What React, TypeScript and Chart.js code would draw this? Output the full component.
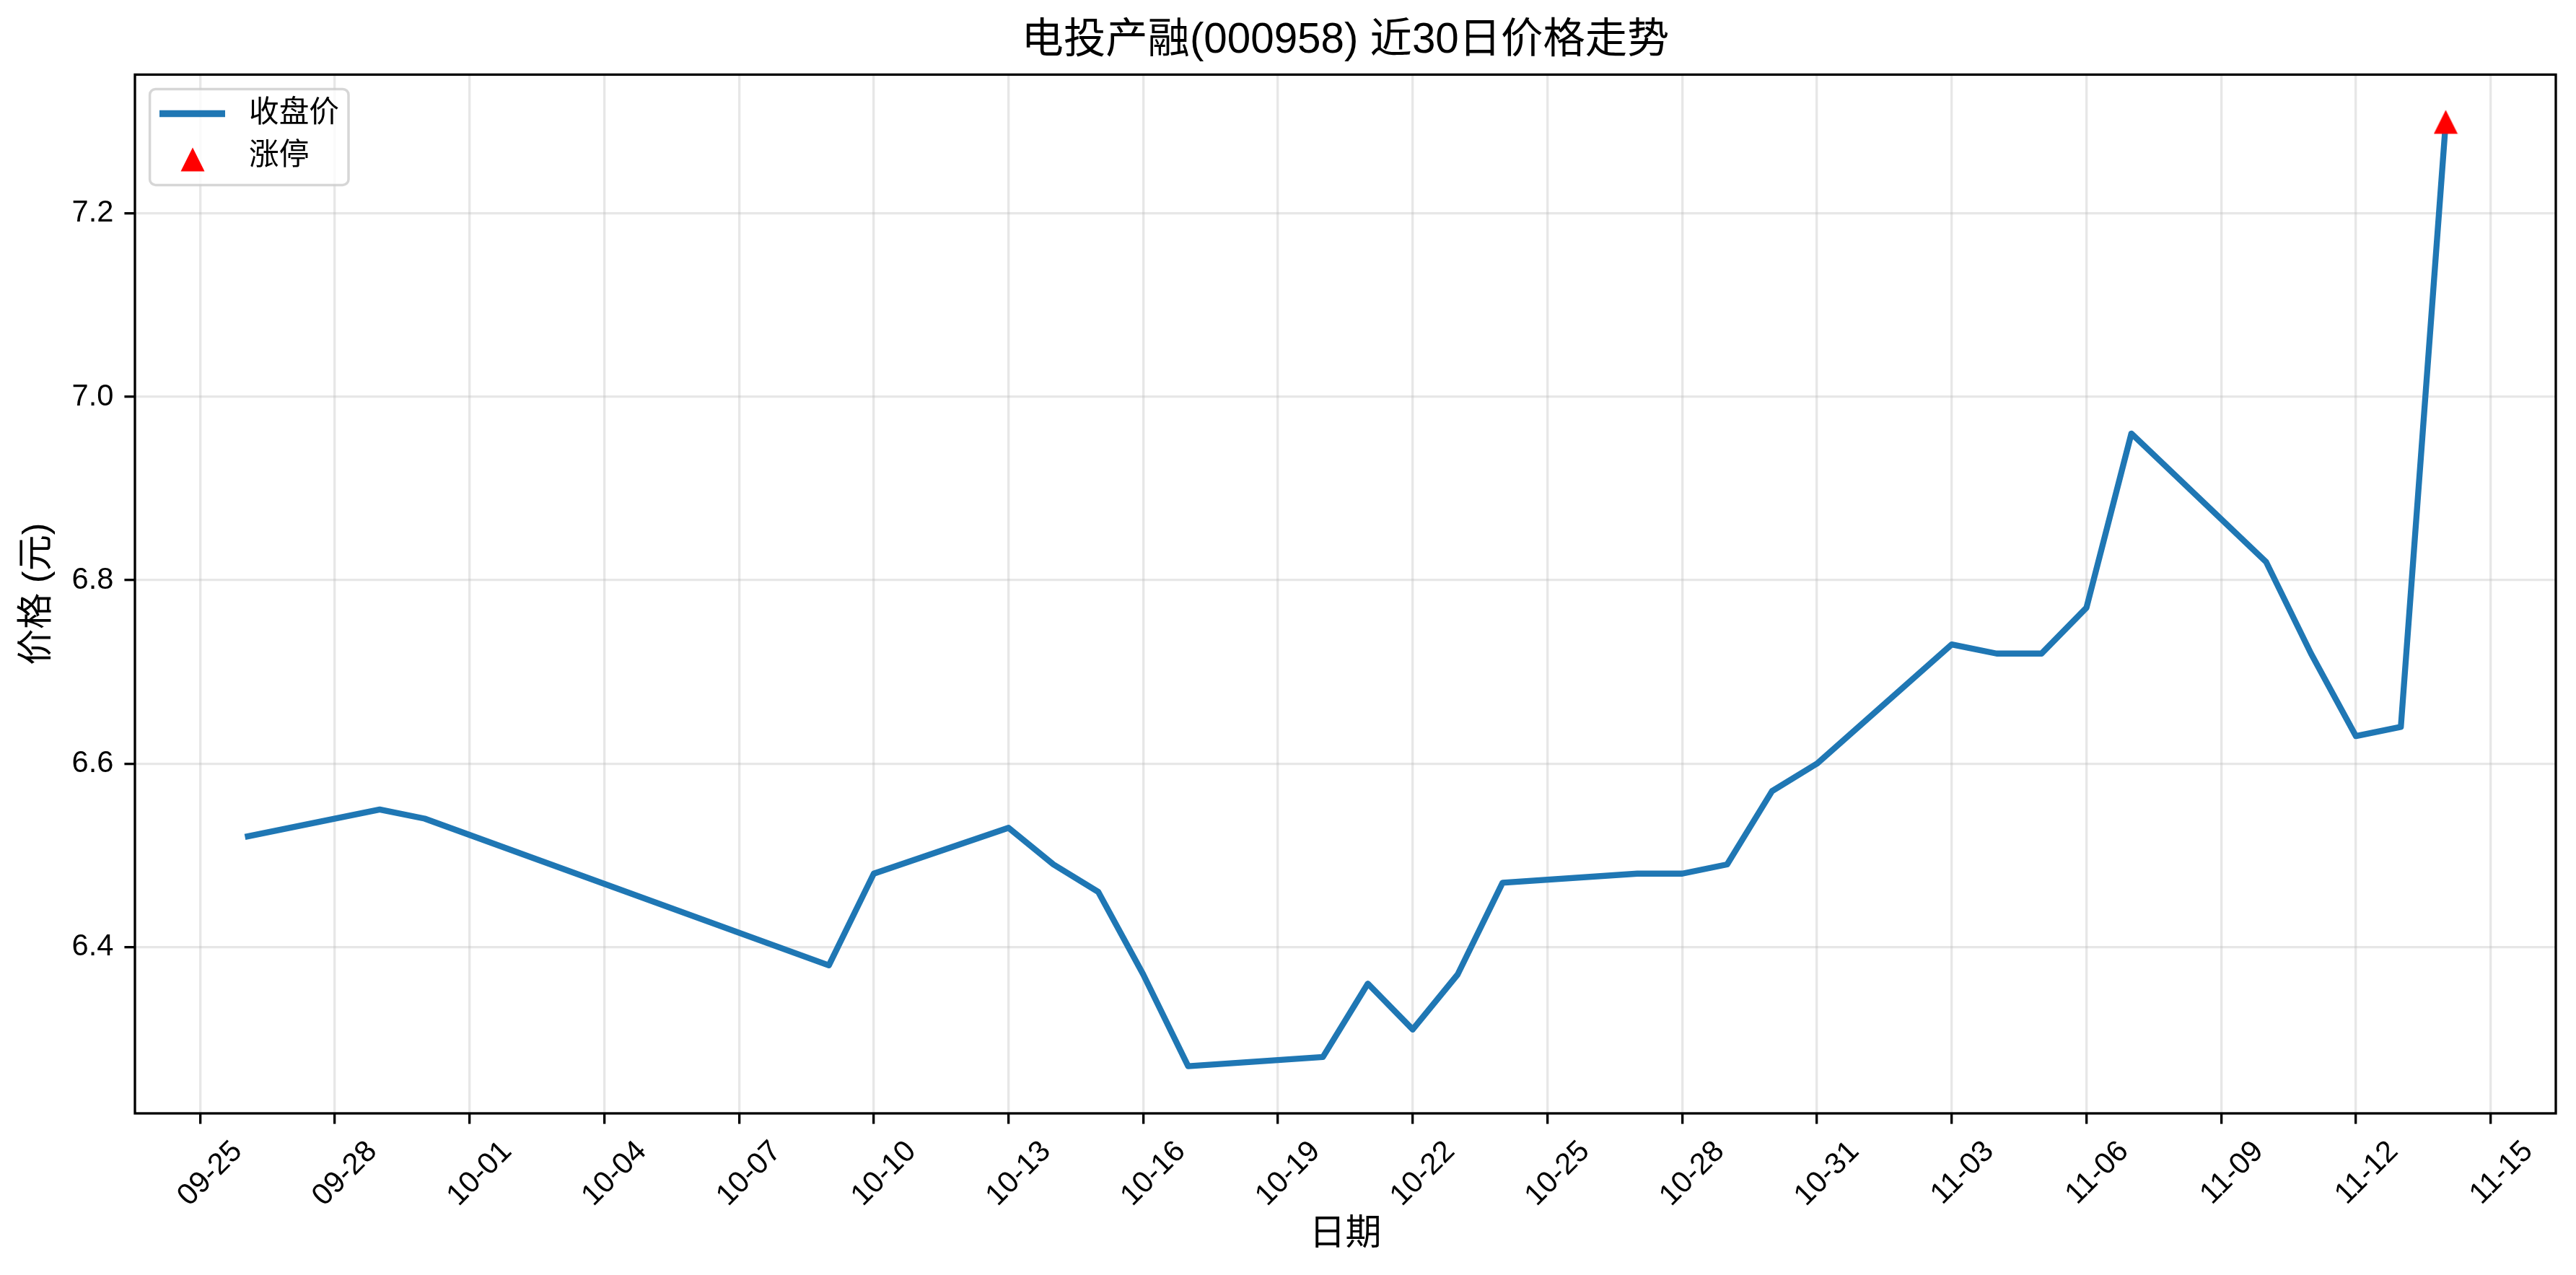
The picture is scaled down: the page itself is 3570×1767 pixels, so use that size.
import React, { useEffect, useRef } from 'react';
import { Chart, registerables } from 'chart.js';

Chart.register(...registerables);

// ---- data ----
const dates = [
  '09-26', '09-29', '09-30', '10-09', '10-10', '10-13', '10-14', '10-15', '10-16', '10-17',
  '10-20', '10-21', '10-22', '10-23', '10-24', '10-27', '10-28', '10-29', '10-30', '10-31',
  '11-03', '11-04', '11-05', '11-06', '11-07', '11-10', '11-11', '11-12', '11-13', '11-14',
];
const closes = [
  6.52, 6.55, 6.54, 6.38, 6.48, 6.53, 6.49, 6.46, 6.37, 6.27,
  6.28, 6.36, 6.31, 6.37, 6.47, 6.48, 6.48, 6.49, 6.57, 6.60,
  6.73, 6.72, 6.72, 6.77, 6.96, 6.82, 6.72, 6.63, 6.64, 7.30,
];
const limitUpDates = ['11-14'];
const limitUpPrices = [7.30];

const xTickLabels = [
  '09-25', '09-28', '10-01', '10-04', '10-07', '10-10', '10-13', '10-16', '10-19',
  '10-22', '10-25', '10-28', '10-31', '11-03', '11-06', '11-09', '11-12', '11-15',
];
const yTicks = [6.4, 6.6, 6.8, 7.0, 7.2];
const yTickLabels = ['6.4', '6.6', '6.8', '7.0', '7.2'];

const titleText = '电投产融(000958) 近30日价格走势';
const xTitle = '日期';
const yTitle = '价格 (元)';
const lineLabel = '收盘价';
const limitLabel = '涨停';

const YEAR = 2025;
const ORIGIN = Date.UTC(YEAR, 8, 25);
function dayNum(md: string): number {
  const [m, d] = md.split('-').map(Number);
  return Math.round((Date.UTC(YEAR, m - 1, d) - ORIGIN) / 86400000);
}

const FONT = '"Liberation Sans", "Noto Sans CJK SC", sans-serif';
const BLUE = '#1f77b4';
const LW = 300 / 72; // 1pt at 300 dpi

function makeTriangle(): HTMLCanvasElement {
  const c = document.createElement('canvas');
  c.width = 34;
  c.height = 34;
  const g = c.getContext('2d')!;
  g.fillStyle = '#ff0000';
  g.beginPath();
  g.moveTo(17, 0.5);
  g.lineTo(33.5, 33.5);
  g.lineTo(0.5, 33.5);
  g.closePath();
  g.fill();
  return c;
}

export default function App() {
  const ref = useRef<HTMLCanvasElement | null>(null);

  useEffect(() => {
    if (!ref.current) return;
    const tri = makeTriangle();

    const xs = dates.map(dayNum);
    const xMinD = Math.min(...xs);
    const xMaxD = Math.max(...xs);
    const xPad = 0.05 * (xMaxD - xMinD);
    const allY = closes.concat(limitUpPrices);
    const yMinD = Math.min(...allY);
    const yMaxD = Math.max(...allY);
    const yPad = 0.05 * (yMaxD - yMinD);

    const framePlugin = {
      id: 'frameAndLegend',
      afterDatasetsDraw(chart: any) {
        const { ctx, chartArea: a } = chart;
        ctx.save();
        // spines
        ctx.strokeStyle = '#000';
        ctx.lineWidth = 0.8 * LW;
        ctx.strokeRect(a.left, a.top, a.right - a.left, a.bottom - a.top);

        // legend
        const lx = a.left + 20.6;
        const ly = a.top + 20;
        ctx.beginPath();
        (ctx as any).roundRect(lx, ly, 275.4, 133, 8);
        ctx.fillStyle = 'rgba(255,255,255,0.8)';
        ctx.fill();
        ctx.strokeStyle = 'rgba(204,204,204,0.8)';
        ctx.lineWidth = 3.5;
        ctx.stroke();

        ctx.strokeStyle = BLUE;
        ctx.lineWidth = 9.5;
        ctx.lineCap = 'butt';
        ctx.beginPath();
        ctx.moveTo(a.left + 34, a.top + 54);
        ctx.lineTo(a.left + 125, a.top + 54);
        ctx.stroke();

        ctx.drawImage(tri, a.left + 80 - tri.width / 2, a.top + 117.5 - tri.height / 2);

        ctx.fillStyle = '#000';
        ctx.font = `${10 * LW}px ${FONT}`;
        ctx.textBaseline = 'middle';
        ctx.textAlign = 'left';
        const ds = chart.data.datasets;
        ctx.fillText(ds[1].label, a.left + 158, a.top + 54);
        ctx.fillText(ds[0].label, a.left + 158, a.top + 113);
        ctx.restore();
      },
    };

    const grid = {
      color: 'rgba(176,176,176,0.3)',
      lineWidth: 0.8 * LW,
      tickColor: '#000',
      tickWidth: 0.8 * LW,
      tickLength: 3.5 * LW,
      drawOnChartArea: true,
      drawTicks: true,
    };

    const chart = new Chart(ref.current, {
      type: 'line',
      data: {
        datasets: [
          {
            type: 'scatter',
            label: limitLabel,
            data: limitUpDates.map((d, i) => ({ x: dayNum(d), y: limitUpPrices[i] })),
            pointStyle: tri as any,
            pointRadius: 17,
            pointHoverRadius: 17,
            backgroundColor: '#ff0000',
            borderColor: '#ff0000',
            showLine: false,
            order: 0,
          } as any,
          {
            type: 'line',
            label: lineLabel,
            data: dates.map((d, i) => ({ x: dayNum(d), y: closes[i] })),
            borderColor: BLUE,
            backgroundColor: BLUE,
            borderWidth: 2 * LW,
            pointRadius: 0,
            pointHoverRadius: 0,
            fill: false,
            tension: 0,
            borderJoinStyle: 'round',
            borderCapStyle: 'butt',
            order: 1,
          } as any,
        ],
      },
      options: {
        animation: false,
        responsive: true,
        maintainAspectRatio: false,
        devicePixelRatio: 1,
        events: [],
        layout: { padding: { left: 0, top: 0, right: 28, bottom: 0 } },
        plugins: {
          legend: { display: false },
          tooltip: { enabled: false },
          title: {
            display: true,
            text: titleText,
            fullSize: false,
            color: '#000',
            font: { family: FONT, size: 14 * LW, weight: 'normal', lineHeight: 1.2 },
            padding: { top: 22, bottom: 11.4 },
          },
        },
        scales: {
          x: {
            type: 'linear',
            min: xMinD - xPad,
            max: xMaxD + xPad,
            grid,
            border: { display: false },
            afterBuildTicks: (scale: any) => {
              scale.ticks = xTickLabels.map((t) => ({ value: dayNum(t) }));
            },
            afterFit: (scale: any) => {
              scale.height = 224;
            },
            ticks: {
              autoSkip: false,
              minRotation: 45,
              maxRotation: 45,
              padding: 14,
              labelOffset: 52,
              color: '#000',
              font: { family: FONT, size: 10 * LW, lineHeight: 1.2 },
              callback: (_v: any, i: number) => xTickLabels[i],
            },
            title: {
              display: true,
              text: xTitle,
              color: '#000',
              font: { family: FONT, size: 12 * LW, lineHeight: 1.2 },
              padding: { top: 0, bottom: 26 },
            },
          },
          y: {
            type: 'linear',
            min: yMinD - yPad,
            max: yMaxD + yPad,
            grid,
            border: { display: false },
            afterBuildTicks: (scale: any) => {
              scale.ticks = yTicks.map((v) => ({ value: v }));
            },
            afterFit: (scale: any) => {
              scale.width = 187;
            },
            ticks: {
              autoSkip: false,
              padding: 15,
              color: '#000',
              font: { family: FONT, size: 10 * LW, lineHeight: 1.2 },
              callback: (_v: any, i: number) => yTickLabels[i],
            },
            title: {
              display: true,
              text: yTitle,
              color: '#000',
              font: { family: FONT, size: 12 * LW, lineHeight: 1.2 },
              padding: { top: 22, bottom: 0 },
            },
          },
        },
      },
      plugins: [framePlugin],
    });

    return () => chart.destroy();
  }, []);

  return (
    <div
      style={{
        position: 'fixed',
        left: 0,
        top: 0,
        width: 3570,
        height: 1767,
        background: '#fff',
      }}
    >
      <canvas ref={ref} />
    </div>
  );
}
